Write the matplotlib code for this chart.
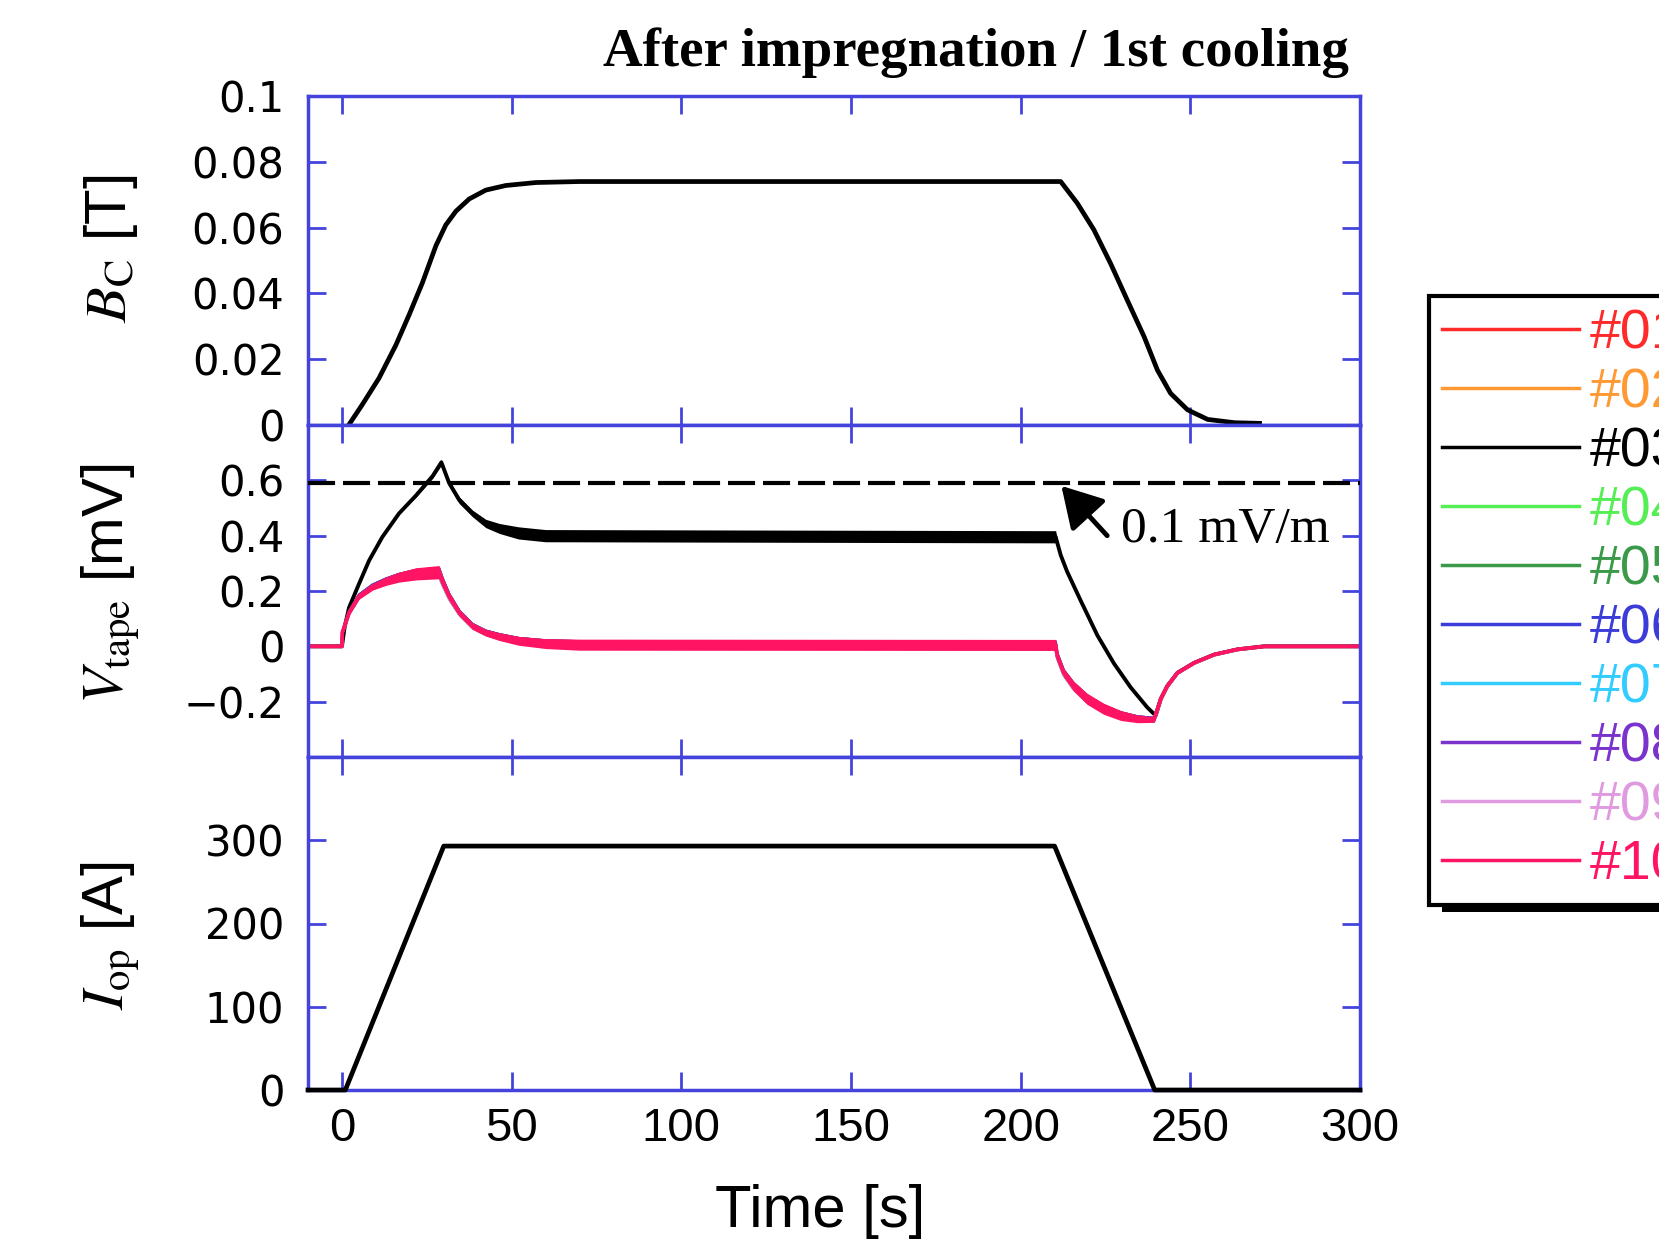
import matplotlib
matplotlib.use('Agg')
import matplotlib.pyplot as plt
import numpy as np
from matplotlib.patches import Rectangle
from matplotlib.lines import Line2D

plt.rcParams['font.family'] = ['Liberation Sans', 'DejaVu Sans']
plt.rcParams['mathtext.fontset'] = 'stix'
plt.rcParams['axes.unicode_minus'] = True

# ---------------- data ----------------
title = 'After impregnation / 1st cooling'
x_ticks = [0, 50, 100, 150, 200, 250, 300]
x_ticklabels = ['0', '50', '100', '150', '200', '250', '300']

b_ticks = [0, 0.02, 0.04, 0.06, 0.08, 0.1]
b_ticklabels = ['0', '0.02', '0.04', '0.06', '0.08', '0.1']
v_ticks = [-0.2, 0, 0.2, 0.4, 0.6]
v_ticklabels = ['\u22120.2', '0', '0.2', '0.4', '0.6']
i_ticks = [0, 100, 200, 300]
i_ticklabels = ['0', '100', '200', '300']

# centre field B_C [T]
t_B = [2, 6, 10.9, 15.9, 19.8, 23.7, 27.7, 30.6, 33.6, 37.5, 42.4, 48.3, 57.2, 70,
       211.8, 216.7, 221.6, 226.5, 231.4, 236.4, 240.3, 244.2, 249.2, 255.1, 263, 270.4]
B_C = [0, 0.0062, 0.0142, 0.0243, 0.0335, 0.0432, 0.0545, 0.0608, 0.065, 0.0687, 0.0714, 0.0728, 0.0737, 0.074,
       0.074, 0.0674, 0.0593, 0.0491, 0.038, 0.0268, 0.0167, 0.0096, 0.0046, 0.0017, 0.0007, 0.0005]

# operating current I_op [A]
t_I = [-10, 1, 30, 210, 239.5, 300]
I_op = [0, 0, 293, 293, 0, 0]

# tape voltage #03 [mV] (centre and noise half-width)
t_V03 = [-10, 0, 0.8, 2.1, 5, 8, 11.9, 16.8, 21.8, 26.7,
         29.3, 31.6, 34.6, 38.5, 42.4, 46.4, 52, 60,
         210.3, 211.8, 213.7, 217.7, 222.6, 227.5, 232.4, 237.4, 239.8,
         241.3, 243.2, 246.2, 251.1, 257, 263.9, 271.8, 300]
V03 = [0, 0, 0.07, 0.14, 0.225, 0.31, 0.395, 0.48, 0.545, 0.615,
       0.665, 0.59, 0.528, 0.48, 0.444, 0.426, 0.41, 0.40,
       0.396, 0.33, 0.27, 0.165, 0.04, -0.062, -0.148, -0.222, -0.25,
       -0.19, -0.144, -0.096, -0.06, -0.03, -0.011, 0, 0]
V03_noise = [0, 0, 0, 0, 0, 0, 0, 0, 0.006, 0.008,
             0.01, 0.01, 0.012, 0.012, 0.015, 0.018, 0.022, 0.022,
             0.022, 0.004, 0, 0, 0, 0, 0, 0, 0,
             0, 0, 0, 0, 0, 0, 0, 0]

# tape voltage of the other tapes (#01,#02,#04-#10, overlapping) [mV]
t_V = [-10, 0, 0.1, 2.1, 5, 9, 12.9, 16.8, 21.8, 28.6,
       29.6, 31.6, 34.6, 38.5, 42.4, 46.4, 52, 60, 70,
       210.3, 210.8, 212.7, 215.6, 219.6, 224.5, 229.5, 234.4, 239.3,
       241.3, 243.2, 246.2, 251.1, 257, 263.9, 271.8, 300]
V_tapes = [0, 0, 0.049, 0.121, 0.18, 0.215, 0.235, 0.25, 0.262, 0.268,
           0.235, 0.18, 0.121, 0.073, 0.049, 0.035, 0.02, 0.01, 0.006,
           0.005, -0.035, -0.096, -0.144, -0.19, -0.226, -0.25, -0.262, -0.265,
           -0.19, -0.144, -0.096, -0.06, -0.03, -0.011, 0, 0]
V_noise = [0, 0, 0.005, 0.008, 0.01, 0.012, 0.015, 0.018, 0.022, 0.024,
           0.02, 0.015, 0.012, 0.012, 0.012, 0.014, 0.016, 0.018, 0.02,
           0.02, 0.015, 0.015, 0.018, 0.02, 0.02, 0.018, 0.014, 0.01,
           0.006, 0.005, 0.004, 0.003, 0.002, 0.002, 0, 0]

criterion = 0.59          # 0.1 mV/m level [mV]
criterion_label = '0.1 mV/m'

channels = ['#01', '#02', '#03', '#04', '#05', '#06', '#07', '#08', '#09', '#10']
ch_colors = ['#ff2a2a', '#ff9933', '#000000', '#55ee55', '#3a9a4a',
             '#3c3cd8', '#33ccff', '#7a33cc', '#e09be0', '#ff1463']

# ---------------- figure ----------------
W_PX, H_PX = 1659, 1248
fig = plt.figure(figsize=(W_PX / 100, H_PX / 100), dpi=100)

def fx(px):
    return px / W_PX

def fy(px):
    return 1 - px / H_PX

L = fx(308)
AW = fx(1360) - fx(308)
ax1 = fig.add_axes([L, fy(425), AW, (425 - 96) / H_PX])
ax2 = fig.add_axes([L, fy(757), AW, (757 - 425) / H_PX])
ax3 = fig.add_axes([L, fy(1090), AW, (1090 - 757) / H_PX])

SPINE = '#4444dd'
for ax in (ax1, ax2, ax3):
    for s in ax.spines.values():
        s.set_color(SPINE)
        s.set_linewidth(2.5)
    ax.tick_params(which='both', direction='in', top=True, right=True,
                   length=13, width=2, color=SPINE, pad=17)
    ax.set_xlim(-10, 300)
    ax.set_xticks(x_ticks)

ax1.tick_params(labelbottom=False)
ax2.tick_params(labelbottom=False)
ax3.set_xticks(x_ticks, x_ticklabels, fontfamily='Liberation Sans', fontsize=34)
ax3.tick_params(axis='x', pad=12)

YT_FS = 30
ax1.set_ylim(0, 0.1)
ax1.set_yticks(b_ticks, b_ticklabels, fontfamily='DejaVu Sans', fontsize=YT_FS)
ax2.set_ylim(-0.4, 0.8)
ax2.set_yticks(v_ticks, v_ticklabels, fontfamily='DejaVu Sans', fontsize=YT_FS)
ax3.set_ylim(0, 400)
ax3.set_yticks(i_ticks, i_ticklabels, fontfamily='DejaVu Sans', fontsize=YT_FS)

# top: field
ax1.plot(t_B, B_C, color='black', lw=3.4, solid_joinstyle='round')

# bottom: current
ax3.plot(t_I, I_op, color='black', lw=3.4, clip_on=False, zorder=3)

# middle: voltages
tV = np.array(t_V)
vV = np.array(V_tapes)
hV = np.array(V_noise)
t3 = np.array(t_V03)
v3 = np.array(V03)
h3 = np.array(V03_noise)

edge_side = [1, -1, 0, 1, -1, 1, -1, 1, -1, 0]
handles = []
for k, (name, col) in enumerate(zip(channels, ch_colors)):
    if name == '#03':
        ax2.fill_between(t3, v3 - h3, v3 + h3, color=col, lw=0, zorder=2)
        ax2.plot(t3, v3, color=col, lw=2.8, zorder=2)
    elif name == '#10':
        ax2.fill_between(tV, vV - hV, vV + hV, color=col, lw=0, zorder=2)
        ax2.plot(tV, vV, color=col, lw=2.8, zorder=2)
    else:
        ax2.plot(tV, vV + 0.6 * edge_side[k] * hV, color=col, lw=1.8, zorder=2)
    handles.append(Line2D([], [], color=col, lw=2.5))

ax2.axhline(criterion, color='black', lw=3, ls=(0, (6.5, 1.9)), zorder=4)
ax2.annotate('', xy=(212, 0.58), xytext=(225.5, 0.40),
             arrowprops=dict(arrowstyle='-|>,head_length=0.55,head_width=0.32',
                             lw=3.5, color='black', mutation_scale=45,
                             shrinkA=0, shrinkB=0), zorder=5)
ax2.text(229.5, 0.42, criterion_label, ha='left', va='center',
         fontfamily='Liberation Serif', fontsize=37, zorder=5)

# labels
YL_FS = 42
fig.text(fx(111), fy(249), r'$B_{\mathrm{C}}$ [T]', rotation=90,
         ha='center', va='center', fontsize=YL_FS)
fig.text(fx(111), fy(584), r'$V_{\mathrm{tape}}$ [mV]', rotation=90,
         ha='center', va='center', fontsize=YL_FS)
fig.text(fx(111), fy(936), r'$I_{\mathrm{op}}$ [A]', rotation=90,
         ha='center', va='center', fontsize=YL_FS)
fig.text(fx(820), fy(1227), 'Time [s]', ha='center', va='baseline', fontsize=43)
fig.text(fx(1349), fy(66), title, ha='right', va='baseline',
         fontfamily='Liberation Serif', fontweight='bold', fontsize=39.5)

# legend (extends past the right edge of the figure, as in the original)
leg = fig.legend(handles, channels, loc='upper left',
                 bbox_to_anchor=(fx(1429), fy(295.5)), bbox_transform=fig.transFigure,
                 borderaxespad=0, fontsize=40, handlelength=2.46, handletextpad=0.2,
                 labelspacing=0.125, borderpad=0.24, frameon=True, fancybox=False,
                 edgecolor='black', framealpha=1, labelcolor='linecolor')
leg.get_frame().set_linewidth(3)
leg.set_zorder(6)
shadow = Rectangle((fx(1442), fy(912)), fx(1800) - fx(1442), (912 - 310) / H_PX,
                   transform=fig.transFigure, facecolor='black', edgecolor='none', zorder=5)
fig.add_artist(shadow)

fig.savefig('out.png', dpi=100)
